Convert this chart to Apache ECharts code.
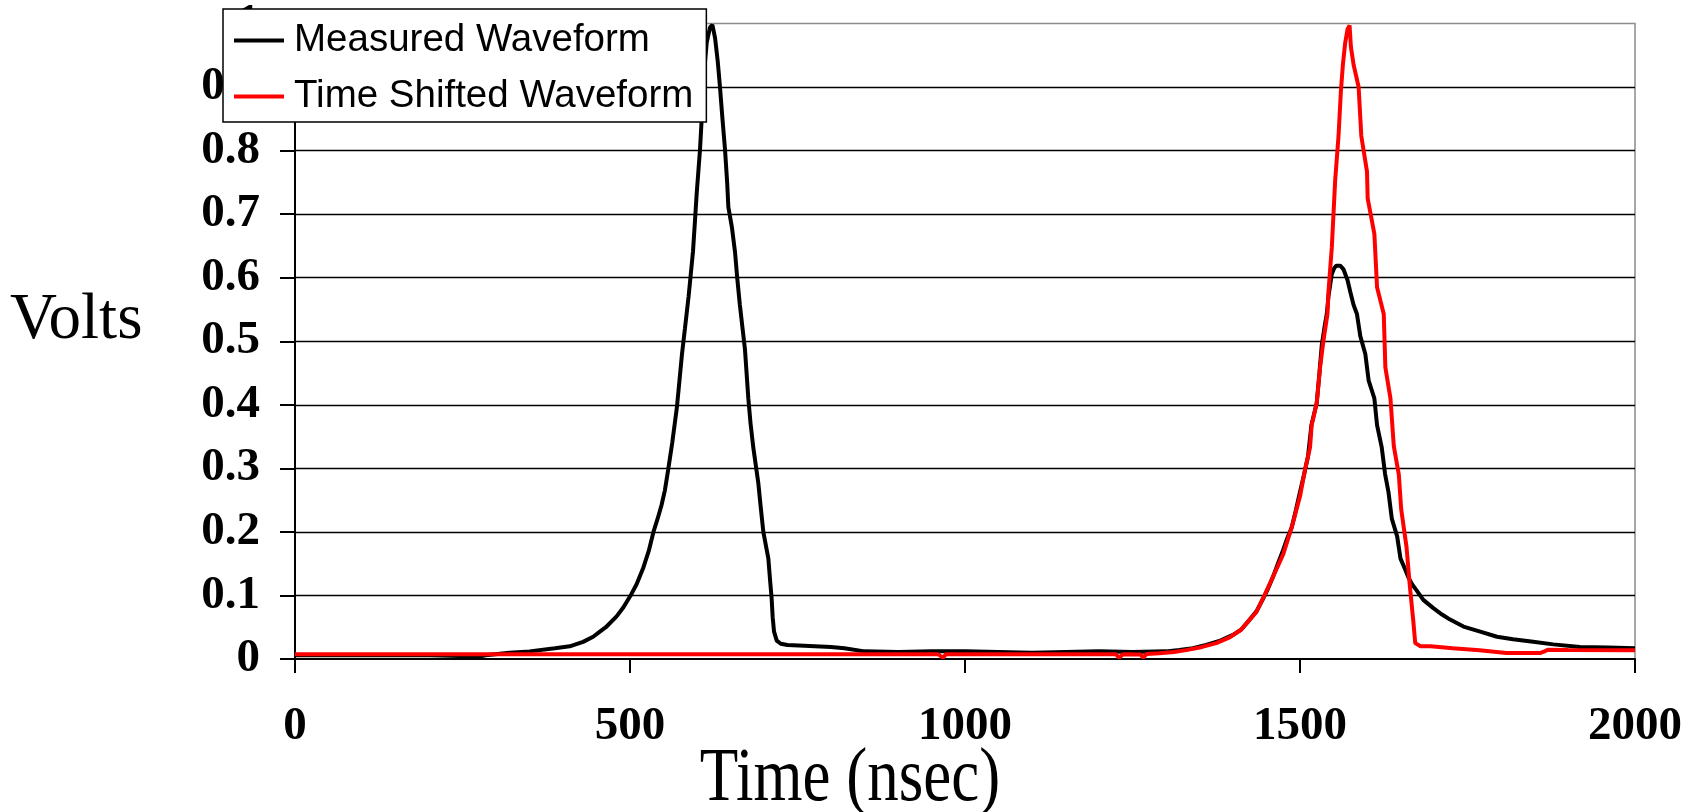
<!DOCTYPE html>
<html>
<head>
<meta charset="utf-8">
<script src="https://cdn.jsdelivr.net/npm/echarts@6/dist/echarts.min.js"></script>
<style>
  html, body { margin: 0; padding: 0; background: #fff; }
  #chart { width: 1700px; height: 812px; }
</style>
</head>
<body>
<div id="chart"></div>
<script>
// Waveform samples: time in nanoseconds, amplitude in volts
const measuredTime = [0, 100, 200, 275, 285, 320, 350, 388, 410, 430, 445, 455, 464, 480, 490, 502, 510, 520, 528, 535, 541, 547, 552, 557, 563, 570, 574, 577.6, 582, 587.5, 594, 597, 599.5, 604.5, 607, 609.5, 612, 614.5, 619.4, 623, 627, 631, 634.3, 638, 641.8, 645, 646.8, 652, 656.7, 660, 664, 668, 671.6, 676.6, 680, 684, 691.5, 695, 699, 706.5, 709, 711.4, 713, 715, 719, 725, 735, 760, 800, 820, 850, 900, 950, 1000, 1050, 1100, 1150, 1200, 1250, 1300, 1320, 1340, 1360, 1381, 1400, 1412, 1425, 1435, 1445, 1452, 1460, 1467, 1475, 1481, 1487.6, 1494, 1500, 1506, 1512, 1517, 1525, 1529, 1532.5, 1537, 1540, 1542.5, 1547.5, 1551, 1554, 1560, 1565, 1571, 1575, 1580, 1585, 1590, 1597.5, 1602.5, 1611, 1615, 1622, 1627, 1632, 1637, 1645, 1650, 1657, 1662, 1667, 1674, 1684, 1699, 1712, 1724, 1744, 1769, 1794, 1818, 1848, 1878, 1918, 1960, 2000];
const measuredVolts = [0.006, 0.006, 0.006, 0.004, 0.006, 0.010, 0.012, 0.017, 0.020, 0.027, 0.035, 0.043, 0.050, 0.067, 0.081, 0.102, 0.118, 0.144, 0.170, 0.200, 0.220, 0.242, 0.265, 0.298, 0.340, 0.396, 0.440, 0.480, 0.520, 0.571, 0.641, 0.690, 0.732, 0.802, 0.850, 0.900, 0.940, 0.970, 0.994, 0.998, 0.977, 0.940, 0.900, 0.850, 0.802, 0.750, 0.711, 0.680, 0.641, 0.600, 0.557, 0.520, 0.487, 0.410, 0.370, 0.333, 0.277, 0.240, 0.200, 0.158, 0.125, 0.095, 0.065, 0.043, 0.029, 0.024, 0.022, 0.021, 0.019, 0.017, 0.012, 0.011, 0.012, 0.012, 0.011, 0.010, 0.011, 0.012, 0.011, 0.012, 0.014, 0.017, 0.022, 0.029, 0.038, 0.046, 0.062, 0.075, 0.095, 0.110, 0.130, 0.150, 0.172, 0.190, 0.207, 0.235, 0.263, 0.290, 0.319, 0.368, 0.403, 0.450, 0.494, 0.525, 0.543, 0.571, 0.606, 0.615, 0.619, 0.619, 0.613, 0.596, 0.578, 0.557, 0.543, 0.508, 0.480, 0.438, 0.410, 0.368, 0.333, 0.291, 0.263, 0.221, 0.193, 0.158, 0.141, 0.128, 0.118, 0.108, 0.093, 0.080, 0.070, 0.062, 0.051, 0.043, 0.035, 0.031, 0.027, 0.023, 0.019, 0.018, 0.017];

const shiftedTime = [0, 200, 400, 600, 800, 960, 967, 972, 1100, 1225, 1230, 1236, 1262, 1266, 1271, 1290, 1312, 1330, 1354, 1375, 1395, 1412, 1425, 1435, 1447.8, 1460, 1475, 1487.6, 1500, 1507.5, 1515, 1517.4, 1525, 1530, 1535, 1541, 1542.5, 1547.5, 1552.5, 1557.5, 1561, 1564, 1567.5, 1571, 1574, 1576, 1580, 1587.5, 1591.5, 1600, 1601, 1611, 1615, 1625, 1627.4, 1635, 1640, 1647.5, 1651, 1659, 1664, 1669, 1672, 1680, 1695, 1728, 1768, 1808, 1858, 1865, 1870, 1900, 2000];
const shiftedVolts = [0.0075, 0.0075, 0.0075, 0.0075, 0.0075, 0.0075, 0.002, 0.0075, 0.0075, 0.0075, 0.002, 0.0075, 0.007, 0.002, 0.008, 0.009, 0.011, 0.014, 0.019, 0.025, 0.034, 0.046, 0.062, 0.074, 0.102, 0.130, 0.165, 0.207, 0.256, 0.298, 0.333, 0.368, 0.403, 0.459, 0.501, 0.543, 0.578, 0.648, 0.753, 0.823, 0.893, 0.935, 0.970, 0.991, 0.997, 0.963, 0.935, 0.900, 0.823, 0.767, 0.725, 0.669, 0.585, 0.543, 0.459, 0.410, 0.335, 0.290, 0.236, 0.176, 0.114, 0.061, 0.025, 0.020, 0.020, 0.017, 0.0136, 0.0094, 0.0094, 0.012, 0.0147, 0.014, 0.0136];

const seriesNames = ['Measured Waveform', 'Time Shifted Waveform'];
const seriesColors = ['#000000', '#ff0000'];
const xTitle = 'Time (nsec)';
const yTitle = 'Volts';

const zip = (xs, ys) => xs.map((x, i) => [x, ys[i]]);

const serif = "'Liberation Serif', 'Times New Roman', serif";
const sans = "'Liberation Sans', Arial, sans-serif";

const chart = echarts.init(document.getElementById('chart'), null, { renderer: 'canvas' });

chart.setOption({
  animation: false,
  backgroundColor: '#ffffff',
  grid: {
    left: 295, right: 65, top: 22, bottom: 153,
    show: true,
    borderColor: '#8c8c8c',
    borderWidth: 1.5,
    backgroundColor: 'transparent'
  },
  legend: {
    orient: 'vertical',
    left: 223, top: 9,
    backgroundColor: '#ffffff',
    borderColor: '#000000',
    borderWidth: 1.5,
    padding: [12, 13, 6, 11],
    itemGap: 17,
    itemWidth: 50,
    itemHeight: 4,
    icon: 'rect',
    textStyle: {
      fontFamily: sans,
      fontSize: 38.5,
      color: '#000000',
      padding: [0, 0, 0, 5]
    },
    data: seriesNames
  },
  xAxis: {
    type: 'value',
    min: 0, max: 2000, interval: 500,
    axisLine: { show: true, onZero: false, lineStyle: { color: '#000', width: 2 } },
    axisTick: { show: true, length: 14, lineStyle: { color: '#000', width: 2 } },
    axisLabel: {
      margin: 44,
      fontFamily: serif,
      fontWeight: 'bold',
      fontSize: 47,
      color: '#000',
      formatter: (v) => String(v)
    },
    splitLine: { show: false }
  },
  yAxis: {
    type: 'value',
    min: 0, max: 1, interval: 0.1,
    axisLine: { show: true, lineStyle: { color: '#000', width: 2 } },
    axisTick: { show: true, length: 15, lineStyle: { color: '#000', width: 2 } },
    axisLabel: {
      margin: 35,
      fontFamily: serif,
      fontWeight: 'bold',
      fontSize: 47,
      color: '#000'
    },
    splitLine: {
      show: true,
      showMinLine: false,
      showMaxLine: false,
      lineStyle: { color: '#000', width: 1.4 }
    }
  },
  graphic: [
    {
      type: 'text',
      x: 850, y: 780,
      scaleY: 1.2,
      style: {
        text: xTitle,
        font: "63px " + serif,
        fill: '#000',
        align: 'center',
        verticalAlign: 'middle'
      }
    },
    {
      type: 'text',
      x: 10, y: 321,
      style: {
        text: yTitle,
        font: "65px " + serif,
        fill: '#000',
        align: 'left',
        verticalAlign: 'middle'
      }
    }
  ],
  series: [
    {
      name: seriesNames[0],
      type: 'line',
      data: zip(measuredTime, measuredVolts),
      showSymbol: false,
      symbol: 'none',
      color: seriesColors[0],
      lineStyle: { color: seriesColors[0], width: 4 },
      z: 3
    },
    {
      name: seriesNames[1],
      type: 'line',
      data: zip(shiftedTime, shiftedVolts),
      showSymbol: false,
      symbol: 'none',
      color: seriesColors[1],
      lineStyle: { color: seriesColors[1], width: 4 },
      z: 4
    }
  ]
});
</script>
</body>
</html>
